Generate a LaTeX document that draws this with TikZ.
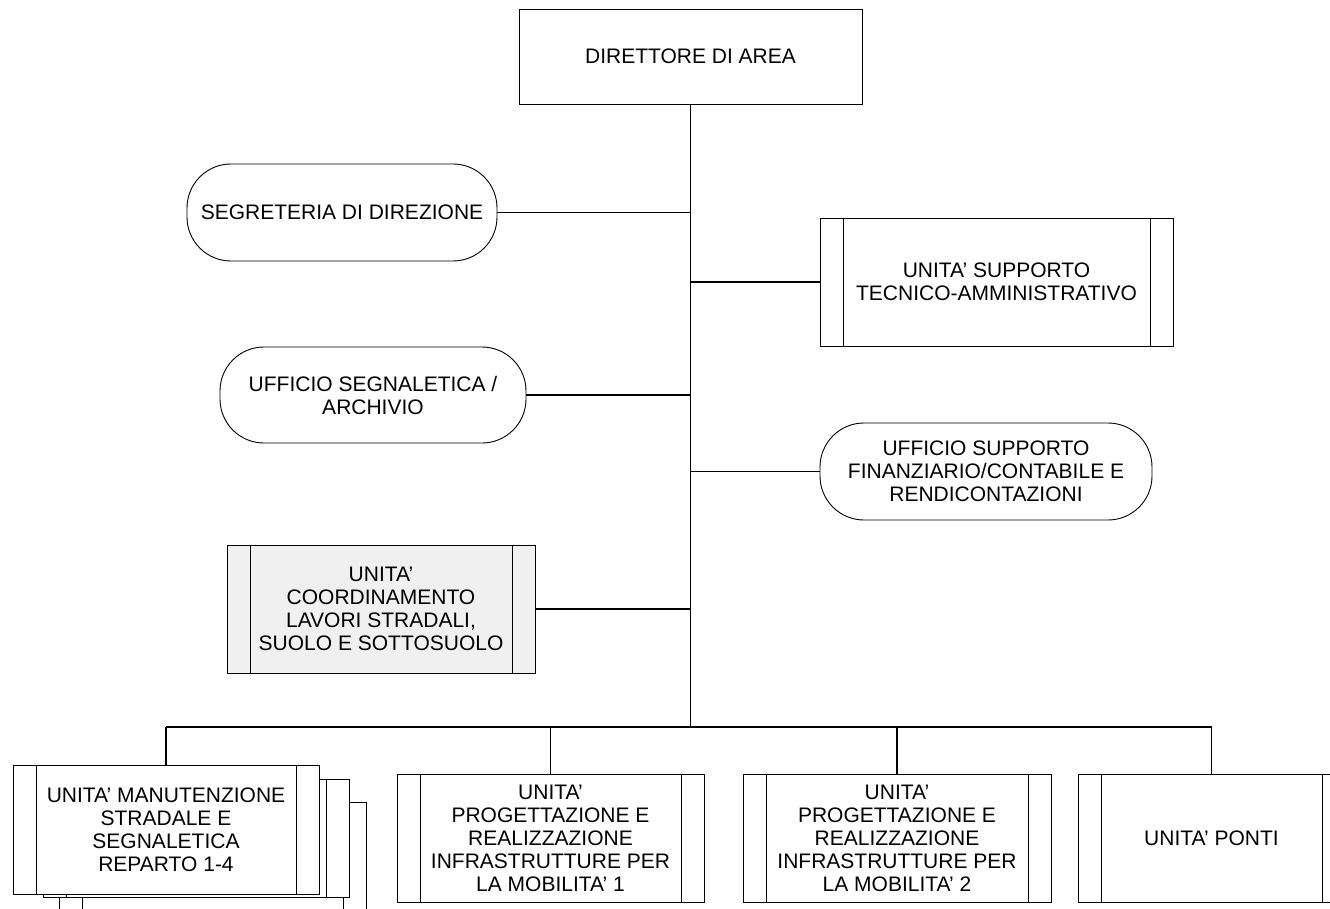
\documentclass[tikz,border=0pt]{standalone}
\usepackage{fontspec}
\setmainfont{Liberation Sans}
\begin{document}
\begin{tikzpicture}[x=1pt,y=-1pt,
  every node/.style={font=\fontsize{21}{23}\selectfont, align=center, inner sep=0pt},
  plainbox/.style={draw, line width=0.9pt, fill=white},
  unitbox/.style={plainbox, path picture={
      \draw[line width=0.9pt] ([xshift=23pt]path picture bounding box.north west) -- ([xshift=23pt]path picture bounding box.south west);
      \draw[line width=0.9pt] ([xshift=-23pt]path picture bounding box.north east) -- ([xshift=-23pt]path picture bounding box.south east);}},
  office/.style={draw, line width=0.9pt, fill=white, rounded corners=44pt},
  link/.style={draw, line width=1.2pt}
]
\useasboundingbox (0,0) rectangle (1330,909);

% top
\node[plainbox, minimum width=343pt, minimum height=95pt] (dir) at (690.5,56.5) {DIRETTORE DI AREA};

% staff offices
\node[office, minimum width=310pt, minimum height=97pt] (seg) at (342,212.5) {SEGRETERIA DI DIREZIONE};
\node[office, minimum width=306pt, minimum height=96pt] (uffseg) at (373,395) {UFFICIO SEGNALETICA /\\ARCHIVIO};
\node[unitbox, minimum width=353pt, minimum height=128pt] (ust) at (996.5,282) {UNITA’ SUPPORTO\\TECNICO-AMMINISTRATIVO};
\node[office, minimum width=332pt, minimum height=97pt] (usf) at (986,471.5) {UFFICIO SUPPORTO\\FINANZIARIO/CONTABILE E\\RENDICONTAZIONI};
\node[unitbox, fill=gray!12, minimum width=308pt, minimum height=128pt] (ucl) at (381,609) {UNITA’\\COORDINAMENTO\\LAVORI STRADALI,\\SUOLO E SOTTOSUOLO};

% bottom units
\node[unitbox, minimum width=307pt, minimum height=118pt] (man3) at (212.5,861) {};
\node[unitbox, minimum width=306pt, minimum height=118pt] (man2) at (196,838) {};
\node[unitbox, minimum width=306pt, minimum height=129pt] (man1) at (166,829.5) {UNITA’ MANUTENZIONE\\STRADALE E\\SEGNALETICA\\REPARTO 1-4};
\node[unitbox, minimum width=307pt, minimum height=128pt] (pr1) at (550.5,838) {UNITA’\\PROGETTAZIONE E\\REALIZZAZIONE\\INFRASTRUTTURE PER\\LA MOBILITA’ 1};
\node[unitbox, minimum width=308pt, minimum height=128pt] (pr2) at (897,838) {UNITA’\\PROGETTAZIONE E\\REALIZZAZIONE\\INFRASTRUTTURE PER\\LA MOBILITA’ 2};
\node[unitbox, minimum width=267pt, minimum height=128pt] (ponti) at (1211.5,838) {UNITA’ PONTI};

% connectors
\coordinate (bus) at (690,727);
\path[link] (dir.south) -- (dir.south |- bus);
\path[link] (man1.north |- bus) -- (ponti.north |- bus);
\path[link] (man1.north) -- (man1.north |- bus);
\path[link] (pr1.north) -- (pr1.north |- bus);
\path[link] (pr2.north) -- (pr2.north |- bus);
\path[link] (ponti.north) -- (ponti.north |- bus);
\path[link] (seg.east) -- (seg.east -| dir.south);
\path[link] (uffseg.east) -- (uffseg.east -| dir.south);
\path[link] (ucl.east) -- (ucl.east -| dir.south);
\path[link] (ust.west) -- (ust.west -| dir.south);
\path[link] (usf.west) -- (usf.west -| dir.south);
\end{tikzpicture}
\end{document}
